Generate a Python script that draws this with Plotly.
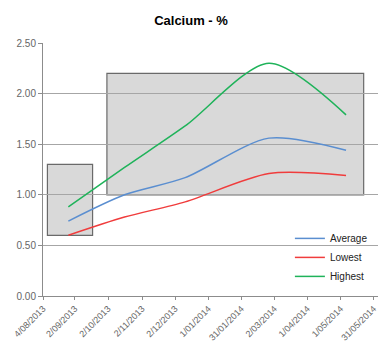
import plotly.graph_objects as go

# Data
dates = ["2013-08-27", "2013-10-17", "2013-12-11", "2014-02-25", "2014-05-06"]
average = [0.74, 1.00, 1.17, 1.56, 1.44]
lowest = [0.60, 0.78, 0.93, 1.21, 1.19]
highest = [0.88, 1.27, 1.68, 2.30, 1.79]

tick_dates = ["2013-08-04", "2013-09-02", "2013-10-02", "2013-11-02", "2013-12-02",
              "2014-01-01", "2014-01-31", "2014-03-02", "2014-04-01", "2014-05-01",
              "2014-05-31"]
tick_labels = ["4/08/2013", "2/09/2013", "2/10/2013", "2/11/2013", "2/12/2013",
               "1/01/2014", "31/01/2014", "2/03/2014", "1/04/2014", "1/05/2014",
               "31/05/2014"]

# highlight boxes: (x0, x1, y0, y1)
box_small = ("2013-08-08", "2013-09-18", 0.60, 1.30)
box_large = ("2013-10-01", "2014-05-22", 1.00, 2.20)

series = [("Average", average, "#5a8ed0"),
          ("Lowest", lowest, "#f03c3c"),
          ("Highest", highest, "#1fb35a")]

fig = go.Figure()
for name, vals, col in series:
    fig.add_trace(go.Scatter(x=dates, y=vals, name=name, mode="lines",
                             line=dict(color=col, width=1.5, shape="spline", smoothing=0.8)))

for b in (box_small, box_large):
    fig.add_shape(type="rect", xref="x", yref="y", x0=b[0], x1=b[1], y0=b[2], y1=b[3],
                  fillcolor="#d9d9d9", line=dict(color="#6a6a6a", width=1.2), layer="below")

axis_font = dict(family="Liberation Sans, Arial, sans-serif", size=10, color="#666666")
xaxis_font = dict(family="Liberation Sans, Arial, sans-serif", size=9, color="#666666")

fig.update_layout(
    width=382, height=343,
    margin=dict(l=43, r=4, t=43, b=47, autoexpand=False),
    paper_bgcolor="white", plot_bgcolor="white",
    title=dict(text="<b>Calcium - %</b>", x=0.5, xanchor="center", y=1 - 20 / 343, yanchor="middle",
               font=dict(family="Liberation Sans, Arial, sans-serif", size=13, color="#000000")),
    showlegend=True,
    legend=dict(x=0.737, y=0.285, xanchor="left", yanchor="top", bgcolor="rgba(0,0,0,0)",
                font=dict(family="Liberation Sans, Arial, sans-serif", size=10, color="#222222"),
                tracegroupgap=0),
    xaxis=dict(type="date", range=["2013-08-04", "2014-06-04"], tickvals=tick_dates, ticktext=tick_labels,
               tickangle=-45, tickfont=xaxis_font, showgrid=False, zeroline=False, automargin=False,
               showline=True, linecolor="#8c8c8c", linewidth=1, ticks="outside", ticklen=3,
               tickcolor="#8c8c8c"),
    yaxis=dict(range=[0, 2.5], tickvals=[0, 0.5, 1.0, 1.5, 2.0, 2.5], tickformat=".2f",
               tickfont=axis_font, showgrid=True, gridcolor="#a6a6a6", gridwidth=1, zeroline=False,
               automargin=False,
               showline=True, linecolor="#8c8c8c", linewidth=1, ticks="outside", ticklen=4,
               tickcolor="#8c8c8c"),
)

fig.write_html("out.html")
